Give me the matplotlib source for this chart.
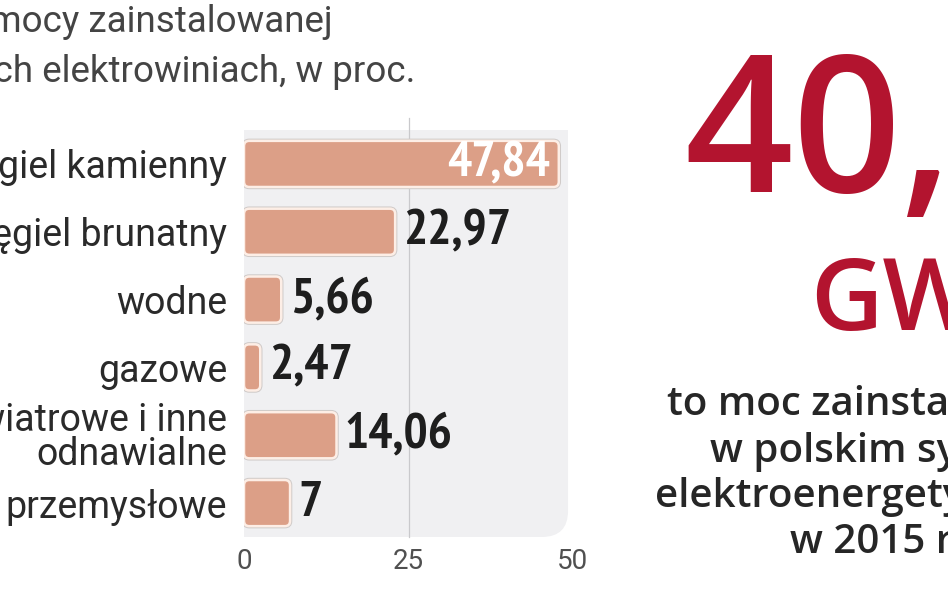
import matplotlib
matplotlib.use("Agg")
import matplotlib.pyplot as plt
from matplotlib import font_manager
from matplotlib.font_manager import FontProperties
from matplotlib.patches import FancyBboxPatch, Rectangle

# data
categories = ["węgiel kamienny", "węgiel brunatny", "wodne", "gazowe",
              "wiatrowe i inne\nodnawialne", "przemysłowe"]
values = [47.84, 22.97, 5.66, 2.47, 14.06, 7]
value_labels = ["47,84", "22,97", "5,66", "2,47", "14,06", "7"]
x_ticks = [0, 25, 50]

title_lines = ["Struktura mocy zainstalowanej",
               "w krajowych elektrowiniach, w proc."]
big_number = "40,"
big_unit = "GW"
side_lines = ["to moc zainstalowana", "w polskim systemie",
              "elektroenergetycznym", "w 2015 r."]


# pick a narrow/condensed bold face for the value labels if one is installed
def weight_of(f):
    w = f.weight
    if isinstance(w, str):
        w = font_manager.weight_dict.get(w, 400)
    return w


def rank(f):
    n = f.name.lower()
    cond = (f.stretch in ("condensed", "semi-condensed", "extra-condensed")
            or "condensed" in n or "narrow" in n)
    if not cond:
        return (99, 0)
    if "narrow" in n:
        r = 0
    elif "roboto" in n:
        r = 1
    elif "noto sans" in n and f.stretch == "condensed":
        r = 2
    elif "noto sans" in n:
        r = 3
    elif "dejavu" in n:
        r = 8
    else:
        r = 5
    return (r, abs(weight_of(f) - 700))


cands = sorted(font_manager.fontManager.ttflist, key=rank)
if cands and rank(cands[0])[0] < 99:
    val_fp = FontProperties(fname=cands[0].fname)
else:
    val_fp = FontProperties(family=["Roboto", "DejaVu Sans"], weight="bold")

W, H = 948, 593
fig = plt.figure(figsize=(W / 100, H / 100), dpi=100)
fig.patch.set_facecolor("white")

left, right, top, bottom = 244, 573, 130, 537
ax = fig.add_axes([left / W, 1 - bottom / H, (right - left) / W, (bottom - top) / H])
ax.set_xlim(0, 50)
ax.set_ylim(len(categories) - 0.5, -0.5)
ax.set_facecolor("none")
for s in ax.spines.values():
    s.set_visible(False)

# grey panel with rounded bottom-right corner
panel_col = "#f0f0f2"
aw = (right - left)
ah = (bottom - top)
panel = FancyBboxPatch((-0.005, 0), 0.99, 1, boxstyle="round,pad=0,rounding_size=0.08",
                       mutation_aspect=aw / ah, transform=ax.transAxes,
                       facecolor=panel_col, edgecolor="none", zorder=0)
ax.add_patch(panel)
ax.add_patch(Rectangle((-0.005, 0.5), 0.99, 0.5, transform=ax.transAxes,
                       facecolor=panel_col, edgecolor="none", zorder=0))
ax.add_patch(Rectangle((-0.005, 0), 0.5, 1, transform=ax.transAxes,
                       facecolor=panel_col, edgecolor="none", zorder=0))
ax.axvline(25, color="#c9c9cc", lw=0.9, zorder=1, ymin=0, ymax=1.03, clip_on=False)

bars = ax.barh(range(len(values)), values, height=0.68, color="none")

px_x = aw / 50.0
px_y = ah / len(categories)
asp = px_x / px_y
for b in bars:
    x0, y0, w, h = b.get_x(), b.get_y(), b.get_width(), b.get_height()
    b.set_visible(False)
    for ec, lw, z in [("#cfcac8", 3.2, 2), ("#fdeee6", 1.8, 3)]:
        p = FancyBboxPatch((x0, y0), w, h,
                           boxstyle="round,pad=0,rounding_size=0.8",
                           mutation_aspect=asp, facecolor="#dc9f87",
                           edgecolor=ec, lw=lw, zorder=z)
        ax.add_patch(p)

val_fp.set_size(36)
anns = []
for i, (v, t) in enumerate(zip(values, value_labels)):
    inside = v > 40
    a = ax.annotate(t, (v, i), xytext=(-6, 0) if inside else (6, 0),
                    textcoords="offset points", ha="right" if inside else "left",
                    va="center", fontproperties=val_fp.copy(),
                    color="white" if inside else "#1e1e1e", zorder=5)
    anns.append(a)

# size the value labels so "22,97" is about as wide as in the reference
renderer = fig.canvas.get_renderer()
wpx = anns[1].get_window_extent(renderer).width
fs = min(40, 36 * 108.0 / wpx)
for a in anns:
    a.set_fontsize(fs)

ax.set_yticks(range(len(categories)))
ax.set_yticklabels(categories, family=["Roboto", "DejaVu Sans"], fontsize=27,
                   color="#2a2a2a", linespacing=0.9)
ax.tick_params(axis="y", length=0, pad=12)
ax.set_xticks(x_ticks)
ax.set_xticklabels([str(t) for t in x_ticks], family=["Roboto", "DejaVu Sans"],
                   fontsize=20, color="#505050")
ax.tick_params(axis="x", length=0, pad=8)

# title (left, cut by the edge)
fig.text(333 / W, 1 - 22 / H, title_lines[0], ha="right", va="center",
         family=["Roboto", "DejaVu Sans"], fontsize=26.5, color="#444444")
fig.text(415 / W, 1 - 72 / H, title_lines[1], ha="right", va="center",
         family=["Roboto", "DejaVu Sans"], fontsize=26.5, color="#444444")

# right side big number
red = "#b3142f"
fig.text(684 / W, 1 - 192 / H, big_number, ha="left", va="baseline",
         family=["Open Sans", "DejaVu Sans"], fontsize=137, fontweight="semibold",
         color=red)
fig.text(810 / W, 1 - 330 / H, big_unit, ha="left", va="baseline",
         family=["Open Sans", "DejaVu Sans"], fontsize=72, fontweight="semibold",
         color=red)
side_x = [667, 710, 655, 790]
side_y = [405, 452, 497, 543]
for t, sx, sy in zip(side_lines, side_x, side_y):
    fig.text(sx / W, 1 - sy / H, t, ha="left", va="center",
             family=["Open Sans", "DejaVu Sans"], fontsize=29, fontweight="semibold",
             color="#262626")

fig.savefig("out.png", dpi=100)
